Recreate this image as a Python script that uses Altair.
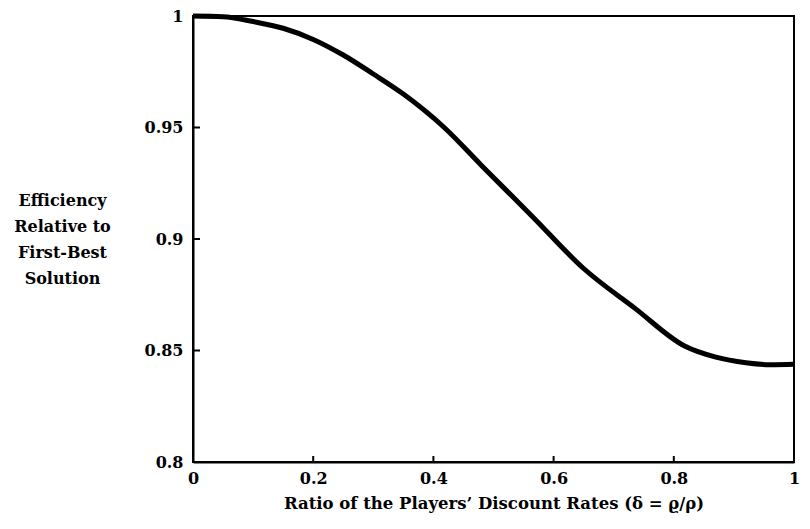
import altair as alt
import pandas as pd

# Curve
ratio = [0.0, 0.05, 0.10, 0.15, 0.20, 0.25, 0.30, 0.35, 0.418,
         0.48, 0.565, 0.649, 0.735, 0.818, 0.87, 0.92, 0.961, 1.0]
efficiency = [1.0, 0.9997, 0.9975, 0.9945, 0.9895, 0.9825, 0.974, 0.965, 0.950,
              0.933, 0.910, 0.887, 0.869, 0.852, 0.847, 0.8445, 0.8436, 0.8438]

x_ticks = [0, 0.2, 0.4, 0.6, 0.8, 1]
y_ticks = [0.8, 0.85, 0.9, 0.95, 1]

df = pd.DataFrame({"ratio": ratio, "eff": efficiency})
xt = pd.DataFrame({"v": x_ticks})
yt = pd.DataFrame({"v": y_ticks})

FONT = "DejaVu Serif"
W, H = 601, 446

xscale = alt.Scale(domain=[0, 1], nice=False, zero=False)
yscale = alt.Scale(domain=[0.8, 1], nice=False, zero=False)

xaxis = alt.Axis(values=x_ticks, tickSize=0, labelPadding=8, domainWidth=2,
                 domainColor="black", grid=False, labelFont=FONT, labelFontWeight="bold",
                 labelFontSize=16, labelColor="black", labelFlush=False, format="~g",
                 title="Ratio of the Players’ Discount Rates (δ = ϱ/ρ)",
                 titleFont=FONT, titleFontWeight="bold", titleFontSize=16.5,
                 titleColor="black", titlePadding=9)
yaxis = alt.Axis(values=y_ticks, tickSize=0, labelPadding=10, domainWidth=2,
                 domainColor="black", grid=False, labelFont=FONT, labelFontWeight="bold",
                 labelFontSize=16, labelColor="black", labelFlush=False,
                 format="~g",
                 title=["Efficiency", "Relative to", "First-Best", "Solution"],
                 titleFont=FONT, titleFontWeight="bold", titleFontSize=16,
                 titleColor="black", titleAngle=0, titleAlign="center",
                 titleBaseline="middle", titleX=-131, titleY=184, titleLineHeight=26)

line = alt.Chart(df).mark_line(color="black", strokeWidth=5, interpolate="monotone").encode(
    x=alt.X("ratio:Q", scale=xscale, axis=xaxis),
    y=alt.Y("eff:Q", scale=yscale, axis=yaxis),
)

xticks = alt.Chart(xt).mark_rule(color="black", strokeWidth=2).encode(
    x=alt.X("v:Q", scale=xscale),
    y=alt.value(H), y2=alt.value(H - 6),
)
yticks = alt.Chart(yt).mark_rule(color="black", strokeWidth=2).encode(
    y=alt.Y("v:Q", scale=yscale),
    x=alt.value(0), x2=alt.value(7),
)

chart = alt.layer(line, xticks, yticks).properties(
    width=W, height=H,
    autosize=alt.AutoSizeParams(type="none"),
    padding={"left": 185, "top": 8, "right": 7, "bottom": 55},
    background="white",
).configure_view(stroke="black", strokeWidth=2)

chart.save("out.html", embed_options={"renderer": "svg", "actions": False})
